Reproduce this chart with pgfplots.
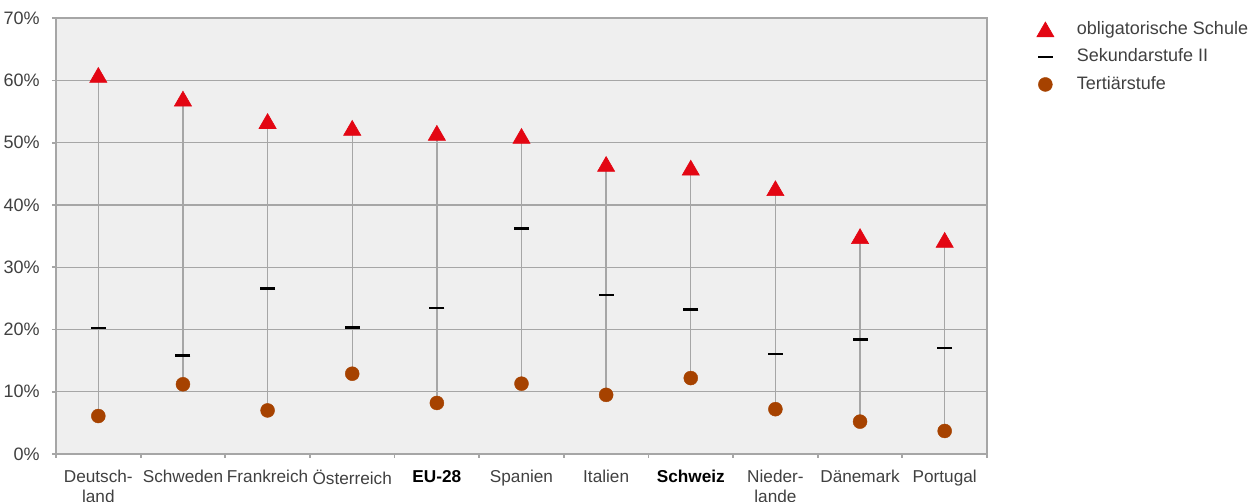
\documentclass[border=0pt]{standalone}
\usepackage{pgfplots}
\pgfplotsset{compat=1.18}
\usepackage{fontspec}
\setmainfont{Liberation Sans}
\definecolor{tri}{HTML}{E30613}
\definecolor{terc}{HTML}{A64200}
\definecolor{grd}{HTML}{A6A6A6}
\definecolor{bg}{HTML}{EFEFEF}
\definecolor{txt}{HTML}{404040}
\begin{document}
\begin{tikzpicture}
\begin{axis}[
  at={(0,0)}, anchor=south west,
  scale only axis, width=465.5pt, height=217.85pt,
  xmin=-0.5, xmax=10.5, ymin=0, ymax=70,
  axis background/.style={fill=bg},
  axis line style={grd, line width=0.9pt},
  tick pos=left, tick align=outside,
  ytick={0,10,...,70},
  yticklabel={\pgfmathprintnumber{\tick}\%},
  /pgf/number format/assume math mode=true,
  ymajorgrids, grid style={grd, line width=0.6pt},
  xtick={0,...,10},
  xticklabels={Deutsch-\\land, Schweden, Frankreich, Österreich, \textbf{\color{black}EU-28}, Spanien, Italien, \textbf{\color{black}Schweiz}, Nieder-\\lande, Dänemark, Portugal},
  major x tick style={draw=none},
  minor xtick={-0.5,0.5,...,10.5},
  tick style={grd, line width=0.9pt},
  major tick length=2pt, minor tick length=2pt,
  ticklabel style={font=\fontsize{9}{10}\selectfont, text=txt, inner sep=0pt},
  xticklabel style={align=center, anchor=north, font=\fontsize{8.6}{10}\selectfont},
  yticklabel style={anchor=east},
  xticklabel shift=6pt, yticklabel shift=6pt,
  clip=false,
  legend style={draw=none, fill=none, at={(1.0535,0.993)}, anchor=north west, inner sep=0pt, outer sep=0pt,
    font=\fontsize{9}{10}\selectfont, text=txt, nodes={inner sep=0pt}, row sep=5.75pt,
    /tikz/every odd column/.append style={column sep=11.5pt}},
  legend cell align=left,
]
\addplot[grd, line width=0.65pt, unbounded coords=jump, forget plot] coordinates {
 (0,6.1) (0,60.9) (0.5,nan)
 (1,11.2) (1,57.1) (1.5,nan)
 (2,7.0) (2,53.5) (2.5,nan)
 (3,12.9) (3,52.4) (3.5,nan)
 (4,8.2) (4,51.6) (4.5,nan)
 (5,11.3) (5,51.1) (5.5,nan)
 (6,9.5) (6,46.6) (6.5,nan)
 (7,12.2) (7,46.0) (7.5,nan)
 (8,7.2) (8,42.7) (8.5,nan)
 (9,5.2) (9,35.0) (9.5,nan)
 (10,3.7) (10,34.4)
};
\addplot[only marks, mark=triangle*, mark size=4.95pt, color=tri, line width=0.3pt,
  mark options={yshift=-1.25pt}] coordinates {
 (0,60.9) (1,57.1) (2,53.5) (3,52.4) (4,51.6) (5,51.1) (6,46.6) (7,46.0) (8,42.7) (9,35.0) (10,34.4)
};
\addlegendentry{obligatorische Schule}
\addplot[only marks, mark=-, mark size=3.75pt, color=black, line width=1.2pt] coordinates {
 (0,20.2) (1,15.8) (2,26.6) (3,20.3) (4,23.5) (5,36.2) (6,25.5) (7,23.2) (8,16.1) (9,18.4) (10,17.0)
};
\addlegendentry{Sekundarstufe II}
\addplot[only marks, mark=*, mark size=3.5pt, color=terc, line width=0.2pt] coordinates {
 (0,6.1) (1,11.2) (2,7.0) (3,12.9) (4,8.2) (5,11.3) (6,9.5) (7,12.2) (8,7.2) (9,5.2) (10,3.7)
};
\addlegendentry{Tertiärstufe}
\end{axis}
\pgfresetboundingbox
\path[use as bounding box] (-28pt,-24pt) rectangle (596pt,227pt);
\end{tikzpicture}
\end{document}
